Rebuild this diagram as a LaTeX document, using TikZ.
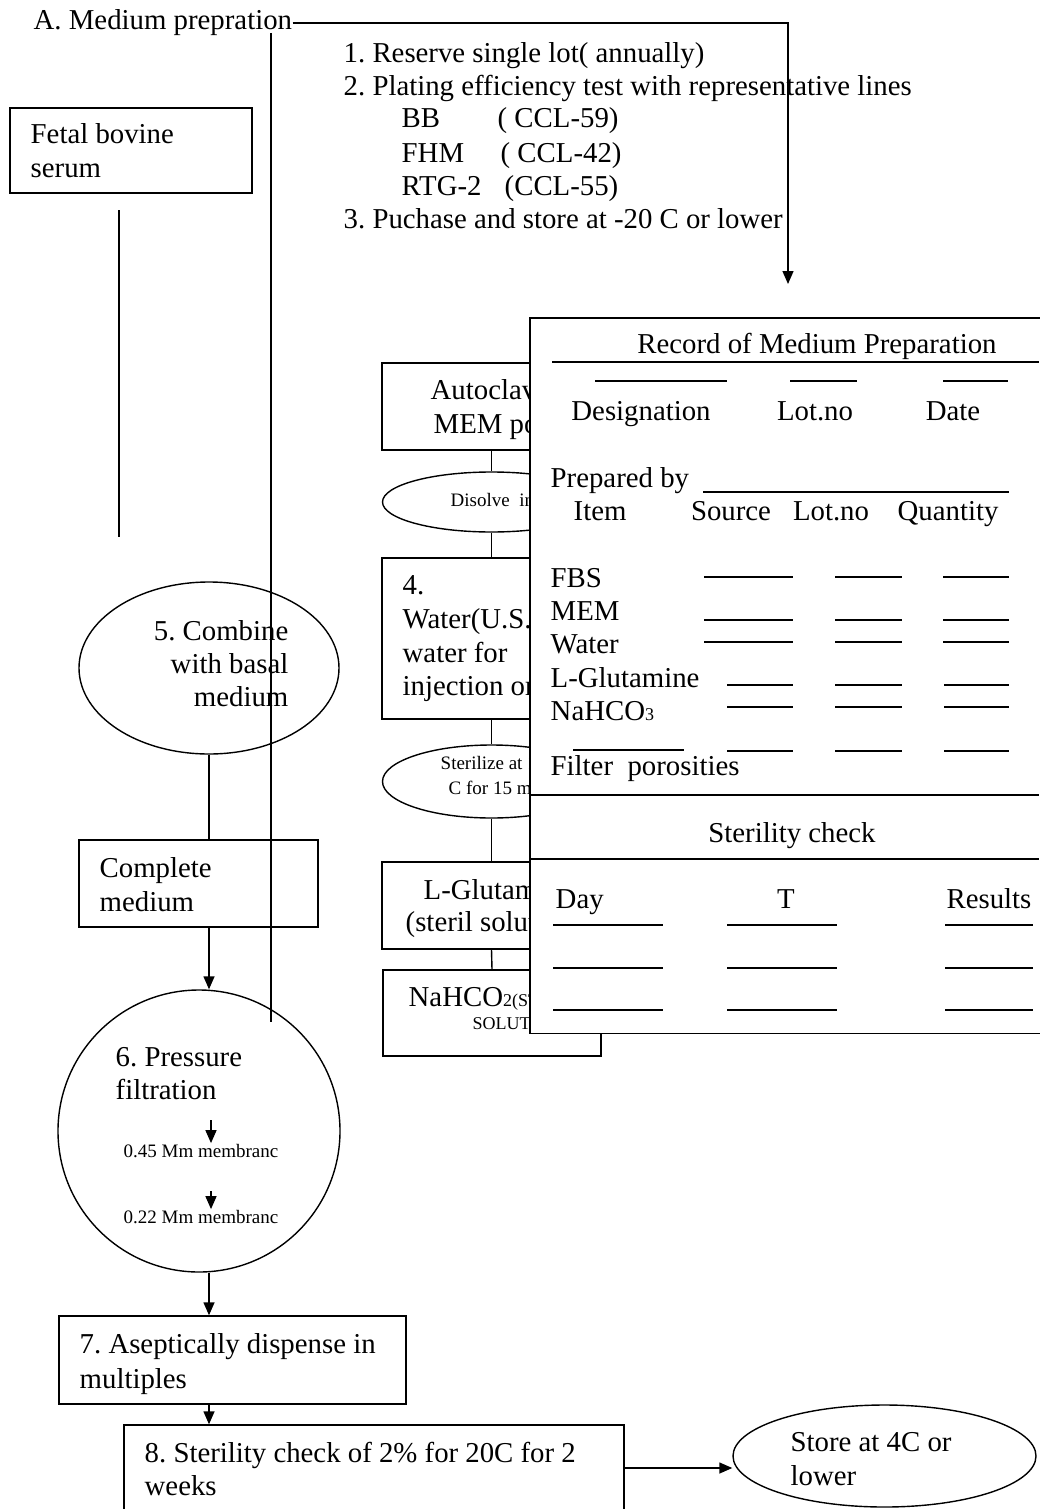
\documentclass[tikz,border=0pt]{standalone}
\usepackage{fontspec}
\setmainfont{Liberation Serif}
\usetikzlibrary{arrows.meta,shapes.geometric}
\frenchspacing
\begin{document}
\begin{tikzpicture}[x=1pt,y=-1pt,line width=1.4pt,
  bigtxt/.style={font=\fontsize{28.8}{33}\selectfont, inner sep=0pt},
  smltxt/.style={font=\fontsize{19}{22}\selectfont, inner sep=0pt},
  boxsty/.style={draw, rectangle, inner sep=0pt},
  ovalsty/.style={draw, ellipse, inner sep=0pt},
  arrowsty/.style={-{Triangle[length=13pt,width=11pt]}},
  blankln/.style={line width=1.3pt}]
\useasboundingbox (0,0) rectangle (1039,1509);

% ---- title and top list
\node[bigtxt, anchor=base west] (title) at (33,30) {A. Medium prepration};
\coordinate (tip) at (788,284);
\draw[arrowsty] (title.east) -| (tip);

\node[bigtxt, anchor=base west] (r1) at (343,63) {1. Reserve single lot( annually)};
\node[bigtxt, anchor=base west] (r2) at (343,96) {2. Plating efficiency test with representative lines};
\node[bigtxt, anchor=base west] (bb) at (401,128) {BB};
\node[bigtxt, anchor=base west] (bbc) at (497,128) {( CCL-59)};
\node[bigtxt, anchor=base west] (fhm) at (401,162) {FHM};
\node[bigtxt, anchor=base west] (fhmc) at (500,162) {( CCL-42)};
\node[bigtxt, anchor=base west] (rtg) at (401,195) {RTG-2};
\node[bigtxt, anchor=base west] (rtgc) at (504,195) {(CCL-55)};
\node[bigtxt, anchor=base west] (r3) at (343,228) {3. Puchase and store at -20 C or lower};

% ---- left column
\node[boxsty, minimum width=242pt, minimum height=85pt] (fbs) at (131,150.5) {};
\node[bigtxt, anchor=base west] (fbst1) at (30,143) {Fetal bovine};
\node[bigtxt, anchor=base west] (fbst2) at (30,177) {serum};
\coordinate (l1) at (119,210);
\coordinate (l2) at (119,537);
\draw (l1) -- (l2);

\node[ovalsty, minimum width=260pt, minimum height=172pt] (c5) at (209,668) {};
\node[bigtxt, anchor=base east] (c5t1) at (289,640) {5. Combine};
\node[bigtxt, anchor=base east] (c5t2) at (289,673) {with basal};
\node[bigtxt, anchor=base east] (c5t3) at (289,706) {medium};

\node[boxsty, minimum width=239pt, minimum height=87pt] (cm) at (198.5,883.5) {};
\node[bigtxt, anchor=base west] (cmt1) at (99,877) {Complete};
\node[bigtxt, anchor=base west] (cmt2) at (99,911) {medium};

\node[draw, circle, inner sep=0pt, minimum size=282pt] (c6) at (199,1131) {};
\node[bigtxt, anchor=base west] (c6t1) at (115,1066) {6. Pressure};
\node[bigtxt, anchor=base west] (c6t2) at (115,1099) {filtration};
\node[smltxt, anchor=base] (m1) at (201,1157) {0.45 Mm membranc};
\node[smltxt, anchor=base] (m2) at (201,1223) {0.22 Mm membranc};
\coordinate (a1) at (211,1120);
\coordinate (a2) at (211,1191);
\draw[arrowsty] (a1) -- (a1 |- m1.north);
\draw[arrowsty] (a2) -- (a2 |- m2.north);

\node[boxsty, minimum width=347pt, minimum height=88pt] (b7) at (232.5,1360) {};
\node[bigtxt, anchor=base west] (b7t1) at (79,1353) {7. Aseptically dispense in};
\node[bigtxt, anchor=base west] (b7t2) at (79,1388) {multiples};

\node[boxsty, minimum width=500pt, minimum height=86pt] (b8) at (374,1468) {};
\node[bigtxt, anchor=base west] (b8t1) at (144,1462) {8. Sterility check of 2\% for 20C for 2};
\node[bigtxt, anchor=base west] (b8t2) at (144,1495) {weeks};

\node[ovalsty, minimum width=303pt, minimum height=102pt] (store) at (884.5,1456) {};
\node[bigtxt, anchor=base west] (stt1) at (790,1451) {Store at 4C or};
\node[bigtxt, anchor=base west] (stt2) at (790,1485) {lower};

\draw (c5.south) -- (c5.south |- cm.north);
\draw[arrowsty] (c5.south |- cm.south) -- (c5.south |- c6.north);
\draw[arrowsty] (c5.south |- c6.south) -- (c5.south |- b7.north);
\draw[arrowsty] (c5.south |- b7.south) -- (c5.south |- b8.north);
\draw[arrowsty] (b8.east) -- (store.west |- b8.east);

% ---- middle column (partly hidden by the record panel)
\node[boxsty, minimum width=219pt, minimum height=87pt] (auto) at (491.5,406.5) {};
\node[boxsty, minimum width=219pt, minimum height=161pt] (w4) at (491.5,638.5) {};
\node[ovalsty, minimum width=218pt, minimum height=60pt] (dis) at (491.5,502) {};
\node[ovalsty, minimum width=218pt, minimum height=73pt] (ster) at (491.5,781.5) {};
\node[boxsty, minimum width=219pt, minimum height=87pt] (glu) at (491.5,905.5) {};
\node[boxsty, minimum width=218pt, minimum height=86pt] (nah) at (492,1013) {};
\begin{scope}
\clip (0,300) rectangle (530,1060);
\node[bigtxt, anchor=base west] (autot1) at (430,399) {Autoclav};
\node[bigtxt, anchor=base west] (autot2) at (433,433) {MEM po};
\node[smltxt, anchor=base west] (dist) at (450,506) {Disolve\ \ in};
\node[bigtxt, anchor=base west] (w4t1) at (402,594) {4.};
\node[bigtxt, anchor=base west] (w4t2) at (402,628) {Water(U.S.};
\node[bigtxt, anchor=base west] (w4t3) at (402,662) {water for};
\node[bigtxt, anchor=base west] (w4t4) at (402,695) {injection or};
\node[smltxt, anchor=base west] (stert1) at (440,769) {Sterilize at 1};
\node[smltxt, anchor=base west] (stert2) at (448,794) {C for 15 m};
\node[bigtxt, anchor=base west] (glut1) at (423,899) {L-Glutami};
\node[bigtxt, anchor=base west] (glut2) at (405,931) {(steril solut};
\node[bigtxt, anchor=base west] (naht1) at (408,1006) {NaHCO{\fontsize{18}{20}\selectfont 2(ST}};
\node[smltxt, anchor=base west, font=\fontsize{18}{20}\selectfont] (naht2) at (472,1029) {SOLUT};
\end{scope}
\draw (auto.south) -- (dis.north);
\draw (dis.south) -- (w4.north);
\draw (w4.south) -- (ster.north);
\draw (ster.south) -- (glu.north);
\draw (glu.south) -- (nah.north);

% ---- record panel
\node[fill=white, inner sep=0pt, minimum width=509pt, minimum height=714pt, anchor=north west] (panel) at (530,318) {};
\draw (panel.north east) -- (panel.north west) -- (panel.south west) -- (panel.south east);
\node[bigtxt, anchor=base] (rec) at (817,353) {Record of Medium Preparation};
\draw[blankln] (552,362) -- (1039,362);
\draw[blankln] (595,381) -- (727,381);
\draw[blankln] (790,381) -- (857,381);
\draw[blankln] (943,381) -- (1008,381);
\node[bigtxt, anchor=base] (des) at (641,420) {Designation};
\node[bigtxt, anchor=base] (lot1) at (815,420) {Lot.no};
\node[bigtxt, anchor=base] (dat) at (953,420) {Date};
\node[bigtxt, anchor=base west] (prep) at (550,487) {Prepared by};
\draw[blankln] (703,492) -- (1009,492);
\node[bigtxt, anchor=base west] (item) at (573,520) {Item};
\node[bigtxt, anchor=base] (src) at (731,520) {Source};
\node[bigtxt, anchor=base] (lot2) at (831,520) {Lot.no};
\node[bigtxt, anchor=base] (qty) at (948,520) {Quantity};
\node[bigtxt, anchor=base west] (ifbs) at (550,587) {FBS};
\node[bigtxt, anchor=base west] (imem) at (550,620) {MEM};
\node[bigtxt, anchor=base west] (iwat) at (550,653) {Water};
\node[bigtxt, anchor=base west] (iglu) at (550,687) {L-Glutamine};
\node[bigtxt, anchor=base west] (inah) at (550,720) {NaHCO{\fontsize{18}{20}\selectfont 3}};
\node[bigtxt, anchor=base west] (ifil) at (550,775) {Filter\ \ porosities};
\foreach \yy in {577,620,642} {
  \draw[blankln] (704,\yy) -- (793,\yy);
  \draw[blankln] (835,\yy) -- (902,\yy);
  \draw[blankln] (943,\yy) -- (1009,\yy);
}
\foreach \yy in {685,707,751} {
  \draw[blankln] (727,\yy) -- (793,\yy);
  \draw[blankln] (835,\yy) -- (902,\yy);
  \draw[blankln] (944,\yy) -- (1009,\yy);
}
\draw[blankln] (573,750) -- (684,750);
\draw (530,795) -- (1039,795);
\node[bigtxt, anchor=base] (steril) at (792,842) {Sterility check};
\draw (530,859) -- (1039,859);
\node[bigtxt, anchor=base west] (day) at (555,908) {Day};
\node[bigtxt, anchor=base] (tt) at (786,908) {T};
\node[bigtxt, anchor=base] (res) at (989,908) {Results};
\foreach \yy in {925,968,1010} {
  \draw[blankln] (553,\yy) -- (663,\yy);
  \draw[blankln] (727,\yy) -- (837,\yy);
  \draw[blankln] (945,\yy) -- (1033,\yy);
}

% ---- long vertical line
\coordinate (v1) at (271,33);
\coordinate (v2) at (271,1022);
\draw (v1) -- (v2);
\end{tikzpicture}
\end{document}
